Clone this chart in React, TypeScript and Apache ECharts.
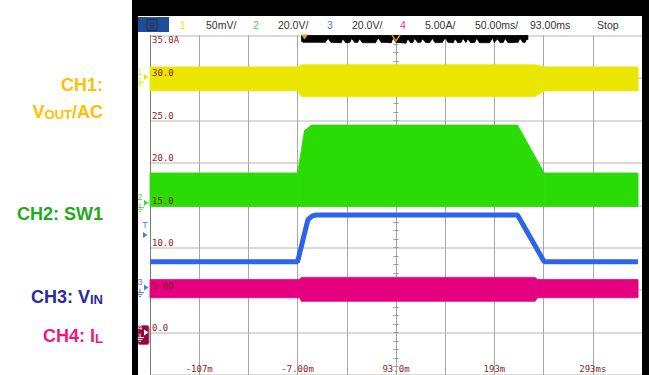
import React, { useEffect, useRef } from "react";
import * as echarts from "echarts";

// ---------- axes (50 ms/div, 10 divisions, reference 93.00 ms at centre) ----------
const timeLeft = -157;
const timeRight = 343;
const timeStep = 50;
const xTickLabels = ["", "-107m", "", "-7.00m", "", "93.0m", "", "193m", "", "293ms", ""];

const yMin = -5;
const yMax = 35;
const yStep = 5;
const yTickValues = [35, 30, 25, 20, 15, 10, 5, 0];
const yTickLabels = ["35.0A", "30.0", "25.0", "20.0", "15.0", "10.0", "5.00", "0.0"];

// ---------- traces (screen units, ms) ----------
const ch1Time = [-157, -7, -3, 234, 245, 339];
const ch1Upper = [31.3, 31.3, 31.55, 31.55, 31.3, 31.3];
const ch1Lower = [28.5, 28.5, 27.8, 27.8, 28.5, 28.5];

const ch2Time = [-157, -7, 0, 7, 216.5, 243.6, 339];
const ch2Upper = [18.8, 18.8, 23.8, 24.45, 24.45, 18.8, 18.8];
const ch2Lower = [14.85, 14.85, 14.85, 14.85, 14.85, 14.85, 14.85];

const ch3Time = [-157, -7, 3.5, 8, 12, 216.5, 243.6, 339];
const ch3Value = [8.35, 8.35, 13.3, 13.75, 13.85, 13.85, 8.35, 8.35];

const ch4Time = [-157, -5, -3, 234, 237, 339];
const ch4Upper = [6.24, 6.24, 6.5, 6.5, 6.24, 6.24];
const ch4Lower = [4.1, 4.1, 3.68, 3.68, 4.1, 4.1];

// acquisition strip hanging from the top of the screen
const stripTime = [
  -3, -1, 21, 24, 27, 37, 39, 42, 46, 48, 51, 54, 56, 59, 72, 75, 78, 88, 90, 93,
  103, 105, 108, 110, 112, 115, 118, 120, 123, 127, 130, 133, 140, 143, 146, 151, 153, 156,
  159, 161, 164, 166, 169, 173, 175, 178, 188, 191, 193, 196, 199, 202, 204, 207,
  217, 219, 222, 224, 226, 227,
];
const stripBottom = [
  34.3, 34.2, 34.2, 34.65, 34.2, 34.15, 34.6, 34.15, 34.2, 34.65, 34.2, 34.2, 34.6, 34.15, 34.15, 34.7, 34.2, 34.15, 34.7, 34.2,
  34.1, 34.6, 34.15, 34.2, 34.65, 34.2, 34.2, 34.6, 34.2, 34.15, 34.65, 34.15, 34.2, 34.7, 34.2, 34.15, 34.6, 34.15,
  34.2, 34.65, 34.2, 34.6, 34.15, 34.2, 34.65, 34.15, 34.15, 34.7, 34.2, 34.6, 34.15, 34.2, 34.65, 34.15,
  34.2, 34.65, 34.2, 34.2, 34.6, 34.5,
];
const stripTop = 35;

// channel ground markers / trigger level
const markerNames = ["1", "2", "3", "4"];
const markerLevels = [30.1, 15.3, 5.3, 0];
const triggerLevel = 11.5;
const triggerTime = 0;
const referenceTime = 93;

// header readout
const headerTexts = ["1", "50mV/", "2", "20.0V/", "3", "20.0V/", "4", "5.00A/", "50.00ms/", "93.00ms", "Stop"];

// ---------- styles ----------
const C1 = "#EAE600";
const C2 = "#2BDB05";
const C3 = "#2E64E6";
const C4 = "#E4007F";
const LABEL = "#8B2323";
const MONO = '"DejaVu Sans Mono", monospace';
const SANS = '"Liberation Sans", Arial, sans-serif';

export default function App() {
  const ref = useRef<HTMLDivElement>(null);

  useEffect(() => {
    const el = ref.current;
    if (!el) return;
    const chart = echarts.init(el, null, { renderer: "svg" });
    const toX = (t: number) => t - timeLeft;

    const bandRows = (ts: number[], lo: number[], up: number[]) => {
      const rows: number[][] = [];
      for (let i = 0; i < ts.length - 1; i++) {
        rows.push([toX(ts[i]), lo[i], up[i], toX(ts[i + 1]), lo[i + 1], up[i + 1]]);
      }
      return rows;
    };
    const bandSeries = (name: string, rows: number[][], color: string, z: number) => ({
      type: "custom",
      name,
      z,
      data: rows,
      encode: { x: [0, 3], y: [1, 2, 4, 5] },
      renderItem: (_p: any, api: any) => {
        const a = api.coord([api.value(0), api.value(1)]);
        const b = api.coord([api.value(3), api.value(4)]);
        const c = api.coord([api.value(3), api.value(5)]);
        const d = api.coord([api.value(0), api.value(2)]);
        return {
          type: "polygon",
          shape: { points: [a, b, c, d] },
          style: { fill: color, stroke: color, lineWidth: 0.8 },
        };
      },
    });

    const yLabel = (v: number) => {
      const i = yTickValues.indexOf(v);
      return i >= 0 ? yTickLabels[i] : "";
    };
    const labelStyle = { color: LABEL, fontFamily: MONO, fontSize: 9 };
    const tickAxis = (inside: boolean) => ({
      type: "value",
      position: "left",
      offset: -246,
      min: yMin,
      max: yMax,
      interval: yStep,
      axisLine: { show: false },
      axisTick: { show: true, inside, length: 2.5, lineStyle: { color: "#9a9a9a" } },
      minorTick: { show: true, splitNumber: 5, length: 2.5, lineStyle: { color: "#9a9a9a" } },
      axisLabel: { show: false },
      splitLine: { show: false },
    });
    const labelAxis = (valign: string, pick: (v: number) => boolean) => ({
      type: "value",
      position: "left",
      z: 10,
      min: yMin,
      max: yMax,
      interval: yStep,
      axisLine: { show: false },
      axisTick: { show: false },
      splitLine: { show: false },
      axisLabel: {
        inside: true,
        margin: 2,
        verticalAlign: valign,
        ...labelStyle,
        formatter: (v: number) => (pick(v) ? yLabel(v) : ""),
      },
    });

    const option: any = {
      animation: false,
      backgroundColor: "#ffffff",
      grid: { left: 150, top: 35.5, width: 492, height: 340 },
      xAxis: [
        {
          type: "value",
          min: 0,
          max: timeRight - timeLeft,
          interval: timeStep,
          axisLine: { show: false },
          axisTick: { show: false },
          axisLabel: {
            inside: true,
            margin: 2,
            ...labelStyle,
            formatter: (v: number) => xTickLabels[Math.round(v / timeStep)] ?? "",
          },
          splitLine: { show: true, lineStyle: { color: "#A8A8A8", width: 1 } },
        },
      ],
      yAxis: [
        {
          type: "value",
          position: "left",
          min: yMin,
          max: yMax,
          interval: yStep,
          axisLine: { show: true, lineStyle: { color: "#7a7a7a", width: 1 } },
          axisTick: { show: false },
          axisLabel: { show: false },
          splitLine: { show: true, lineStyle: { color: "#CDCDCD", width: 1.5 } },
        },
        labelAxis("bottom", (v) => v !== yMax),
        labelAxis("top", (v) => v === yMax),
        tickAxis(false),
        tickAxis(true),
      ],
      series: [
        bandSeries("CH1", bandRows(ch1Time, ch1Lower, ch1Upper), C1, 3),
        bandSeries("CH2", bandRows(ch2Time, ch2Lower, ch2Upper), C2, 3),
        {
          type: "line",
          name: "CH3",
          z: 4,
          data: ch3Time.map((t, i) => [toX(t), ch3Value[i]]),
          symbol: "none",
          lineStyle: { color: C3, width: 5 },
        },
        bandSeries("CH4", bandRows(ch4Time, ch4Lower, ch4Upper), C4, 3),
        bandSeries(
          "strip",
          bandRows(stripTime, stripBottom, stripTime.map(() => stripTop)),
          "#000000",
          5
        ),
      ],
    };
    chart.setOption(option);

    const py = (v: number) => chart.convertToPixel({ yAxisIndex: 0 }, v) as number;
    const px = (t: number) => chart.convertToPixel({ xAxisIndex: 0 }, toX(t)) as number;

    const groundLines = (x: number, y: number, color: string) => [
      { type: "line", shape: { x1: x, y1: y, x2: x, y2: y + 4 }, style: { stroke: color, lineWidth: 1 } },
      { type: "line", shape: { x1: x - 4, y1: y + 4, x2: x + 4, y2: y + 4 }, style: { stroke: color, lineWidth: 1 } },
      { type: "line", shape: { x1: x - 2.5, y1: y + 6, x2: x + 2.5, y2: y + 6 }, style: { stroke: color, lineWidth: 1 } },
      { type: "line", shape: { x1: x - 1, y1: y + 8, x2: x + 1, y2: y + 8 }, style: { stroke: color, lineWidth: 1 } },
    ];
    const markerColors = [C1, "#4BD84B", "#4A7FE8", "#ffffff"];
    const markers: any[] = [];
    markerNames.forEach((name, i) => {
      const y = py(markerLevels[i]);
      const col = markerColors[i];
      if (i === 3) {
        markers.push({
          type: "rect",
          shape: { x: 138, y: y - 7, width: 11, height: 19, r: 2 },
          style: { fill: "#8A0A3A", stroke: "#E0408A", lineWidth: 1 },
        });
      }
      markers.push({
        type: "text",
        x: 140,
        y: y - 1,
        style: { text: name, fill: col, font: `9px ${SANS}`, align: "center", verticalAlign: "bottom" },
      });
      markers.push({
        type: "polygon",
        shape: { points: [[144, y - 3], [148.5, y], [144, y + 3]] },
        style: { fill: col },
      });
      markers.push(...groundLines(140, y + 1, col));
    });
    const ty = py(triggerLevel);
    markers.push({
      type: "text",
      x: 145,
      y: ty - 5,
      style: { text: "T", fill: "#4A7FE8", font: `9px ${SANS}`, align: "center", verticalAlign: "bottom" },
    });
    markers.push({
      type: "polygon",
      shape: { points: [[143, ty - 3], [147.5, ty], [143, ty + 3]] },
      style: { fill: "#4A7FE8" },
    });

    const hx = [180, 206, 253, 278, 327, 352, 400, 425, 475, 530, 597];
    const hc = [C1, "#333333", "#3CDC3C", "#333333", "#4A7FE8", "#333333", "#E8309A", "#333333", "#333333", "#333333", "#333333"];
    const header = headerTexts.map((t, i) => ({
      type: "text",
      x: hx[i],
      y: 25,
      z: 101,
      style: { text: t, fill: hc[i], font: `10.5px ${SANS}`, verticalAlign: "middle" },
    }));

    const tx = px(triggerTime);
    const rx = px(referenceTime);

    const rich = (main: string, big: number, small: number) => ({
      m: { fontSize: big, fontWeight: "bold", fontFamily: SANS, fill: main, color: main, verticalAlign: "bottom" },
      s: { fontSize: small, fontWeight: "bold", fontFamily: SANS, fill: main, color: main, verticalAlign: "bottom" },
    });
    const chText = (text: string, y: number, color: string) => ({
      type: "text",
      x: 103,
      y,
      style: { text, align: "right", verticalAlign: "middle", rich: rich(color, 18, 13) },
    });

    chart.setOption({
      graphic: [
        { type: "rect", z: 100, shape: { x: 132, y: 0, width: 517, height: 16 }, style: { fill: "#000" } },
        { type: "rect", z: 100, shape: { x: 132, y: 0, width: 6, height: 375 }, style: { fill: "#000" } },
        { type: "rect", z: 100, shape: { x: 642, y: 0, width: 7, height: 375 }, style: { fill: "#000" } },
        { type: "rect", z: 100, shape: { x: 138, y: 17, width: 31, height: 15 }, style: { fill: "#1E4C98" } },
        { type: "rect", z: 101, shape: { x: 147, y: 19.5, width: 10, height: 11 }, style: { fill: "none", stroke: "#2A3048", lineWidth: 1 } },
        { type: "line", z: 101, shape: { x1: 149, y1: 23, x2: 155, y2: 23 }, style: { stroke: "#2A3048", lineWidth: 1 } },
        { type: "line", z: 101, shape: { x1: 149, y1: 25.5, x2: 155, y2: 25.5 }, style: { stroke: "#2A3048", lineWidth: 1 } },
        { type: "line", z: 101, shape: { x1: 149, y1: 28, x2: 155, y2: 28 }, style: { stroke: "#2A3048", lineWidth: 1 } },
        ...header,
        {
          type: "polygon",
          z: 102,
          shape: { points: [[tx - 3.5, 34.5], [tx + 3.5, 34.5], [tx, 39.5]] },
          style: { fill: "#F29A1E" },
        },
        {
          type: "polyline",
          z: 102,
          shape: { points: [[rx - 4, 35], [rx, 41], [rx + 4, 35]] },
          style: { stroke: "#D98A2A", lineWidth: 1.5, fill: "none" },
        },
        { type: "group", z: 102, children: markers },
        chText("{m|CH1:}", 85, "#FFC000"),
        chText("{m|V}{s|OUT}{m|/AC}", 112, "#FFC000"),
        chText("{m|CH2: SW1}", 214, "#1DAA1D"),
        chText("{m|CH3: V}{s|IN}", 297, "#2B2A9C"),
        chText("{m|CH4: I}{s|L}", 336, "#F2167A"),
      ],
    });

    return () => chart.dispose();
  }, []);

  return (
    <div
      ref={ref}
      style={{ position: "absolute", left: 0, top: 0, width: 649, height: 375 }}
    />
  );
}
